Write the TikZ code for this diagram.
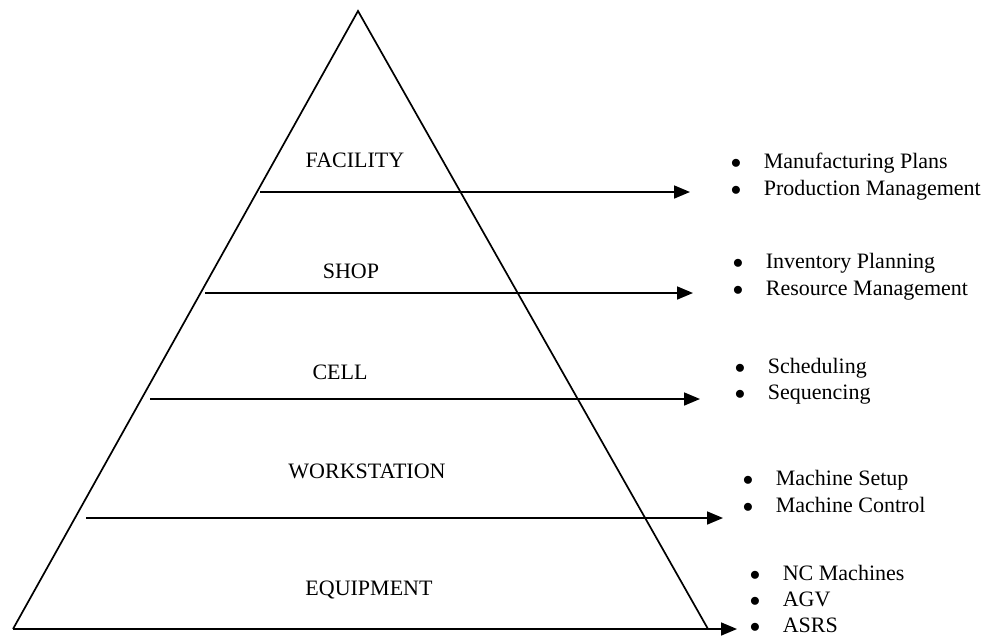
\documentclass[tikz,border=0pt]{standalone}
\usepackage{fontspec}
\setmainfont{Liberation Serif}
\usetikzlibrary{arrows.meta}

\begin{document}
\begin{tikzpicture}[x=1pt, y=-1pt, line width=1.7pt,
  level/.style={anchor=base, inner sep=0pt, font=\fontsize{22}{26}\selectfont},
  item/.style={anchor=base west, inner sep=0pt, font=\fontsize{22}{26}\selectfont},
  flow/.style={-{Triangle[length=16pt,width=13pt]}}]

\useasboundingbox (0,0) rectangle (984,637);

% Corners of the pyramid
\coordinate (apex) at (358,11);
\coordinate (baseL) at (13,629);
\coordinate (baseR) at (708,629);
\coordinate (baseTip) at (737,629);

% Draw pyramid
\draw[line join=miter] (baseR) -- (apex) -- (baseL);
\draw[flow] (baseL) -- (baseTip);

% Level names
\node[level] (facility) at (355,167) {FACILITY};
\node[level] (shop) at (351,278) {SHOP};
\node[level] (cell) at (340,379) {CELL};
\node[level] (workstation) at (367,478) {WORKSTATION};
\node[level] (equipment) at (369,595) {EQUIPMENT};

% Level arrows (name / y / left x / tip x)
\foreach \lvl/\y/\xl/\xr in {fac/192/260/690, shop/293/205/693, cell/399/150/700, work/518/86/723}
{
    \coordinate (\lvl L) at (\xl,\y);
    \coordinate (\lvl R) at (\xr,\y);
    \draw[flow] (\lvl L) -- (\lvl R);
}

% Bullet lists
\def\bul{\llap{$\bullet$\hspace{22.5pt}}}
\foreach \txt [count=\i] in {Manufacturing Plans, Production Management}
    \node[item] (facItem\i) at (763,{168+27*(\i-1)}) {\bul\txt};
\foreach \txt [count=\i] in {Inventory Planning, Resource Management}
    \node[item] (shopItem\i) at (765,{268+27*(\i-1)}) {\bul\txt};
\foreach \txt [count=\i] in {Scheduling, Sequencing}
    \node[item] (cellItem\i) at (767,{373+26*(\i-1)}) {\bul\txt};
\foreach \txt [count=\i] in {Machine Setup, Machine Control}
    \node[item] (workItem\i) at (775,{485+27*(\i-1)}) {\bul\txt};
\foreach \txt [count=\i] in {NC Machines, AGV, ASRS}
    \node[item] (equipItem\i) at (782,{580+26*(\i-1)}) {\bul\txt};

\end{tikzpicture}
\end{document}
